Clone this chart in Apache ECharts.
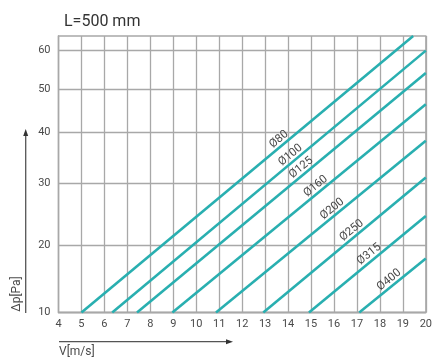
<!DOCTYPE html>
<html>
<head>
<meta charset="utf-8">
<script src="https://cdn.jsdelivr.net/npm/echarts@6/dist/echarts.min.js"></script>
<style>
  html, body { margin: 0; padding: 0; background: #fff; }
  #chart { width: 435px; height: 358px; }
</style>
</head>
<body>
<div id="chart"></div>
<script>
// Pressure drop per duct diameter, duct length 500 mm
const diameters = ['Ø80', 'Ø100', 'Ø125', 'Ø160', 'Ø200', 'Ø250', 'Ø315', 'Ø400'];
// velocity [m/s] at which each curve leaves the 10 Pa line
const vStart = [5.0, 6.34, 7.42, 8.96, 10.86, 12.92, 14.91, 17.10];
// end point of each curve: velocity [m/s] and pressure drop [Pa]
const vEnd = [19.45, 20, 20, 20, 20, 20, 20, 20];
const dpEnd = [63.8, 60.0, 54.2, 46.5, 38.3, 31.1, 24.7, 18.0];
// velocity at which each diameter caption is placed along its curve
const labelAt = [13.95, 14.45, 14.92, 15.55, 16.27, 17.12, 17.88, 18.75];

// pressure axis: printed gridline values and the relative gap between them
const dpTicks = [10, 20, 30, 40, 50, 60];
const dpGaps = [67.5, 62, 51, 43, 38.5];
const dpTop = 63.8;
const vMin = 4, vMax = 20;

// piecewise scale for the pressure axis
function toScale(dp) {
  let acc = 0;
  for (let i = 0; i < dpGaps.length; i++) {
    const a = dpTicks[i], b = dpTicks[i + 1];
    if (dp <= b || i === dpGaps.length - 1) {
      return acc + (dp - a) / (b - a) * dpGaps[i];
    }
    acc += dpGaps[i];
  }
  return acc;
}
function fromScale(u) {
  let acc = 0;
  for (let i = 0; i < dpGaps.length; i++) {
    const a = dpTicks[i], b = dpTicks[i + 1];
    if (u <= acc + dpGaps[i] + 1e-9 || i === dpGaps.length - 1) {
      return a + (u - acc) / dpGaps[i] * (b - a);
    }
    acc += dpGaps[i];
  }
  return dpTicks[dpTicks.length - 1];
}

const teal = '#29afb0';
const gridColor = '#a8a8a8';
const textColor = '#4a4a4a';
const font = 'Roboto, "Liberation Sans", sans-serif';

const tickScaled = dpTicks.map(toScale);

const series = diameters.map((name, i) => {
  const u0 = toScale(10), u1 = toScale(dpEnd[i]);
  const t = (labelAt[i] - vStart[i]) / (vEnd[i] - vStart[i]);
  const uL = u0 + t * (u1 - u0);
  return {
    type: 'line',
    name: name,
    data: [[vStart[i], u0], [vEnd[i], u1]],
    symbol: 'none',
    silent: true,
    lineStyle: { color: teal, width: 2.6 },
    markPoint: {
      symbol: 'circle',
      symbolSize: 0,
      silent: true,
      data: [{ coord: [labelAt[i], uL] }],
      label: {
        show: true,
        formatter: name,
        position: 'inside',
        rotate: 39,
        offset: [-5, -6.5],
        color: textColor,
        fontFamily: font,
        fontSize: 11.5
      }
    }
  };
});

const chart = echarts.init(document.getElementById('chart'), null, { renderer: 'canvas' });
chart.setOption({
  animation: false,
  backgroundColor: '#ffffff',
  title: {
    text: 'L=500 mm',
    left: 59,
    top: 9,
    textStyle: { fontFamily: font, fontSize: 16, fontWeight: 'normal', color: '#333' }
  },
  grid: {
    left: 58.5, right: 6.5, top: 36, bottom: 45.5,
    show: true, borderColor: gridColor, borderWidth: 1.3, containLabel: false
  },
  xAxis: {
    type: 'value',
    min: vMin, max: vMax, interval: 1,
    axisLine: { show: true, lineStyle: { color: gridColor, width: 1.3 } },
    axisTick: { show: false },
    axisLabel: { color: textColor, fontFamily: font, fontSize: 11, margin: 6 },
    splitLine: { show: true, lineStyle: { color: gridColor, width: 1.3 } }
  },
  yAxis: {
    type: 'value',
    min: 0, max: toScale(dpTop),
    axisLine: { show: true, lineStyle: { color: gridColor, width: 1.3 } },
    axisTick: { show: false, customValues: tickScaled },
    axisLabel: {
      customValues: tickScaled,
      color: textColor, fontFamily: font, fontSize: 11, margin: 8,
      formatter: v => String(Math.round(fromScale(v)))
    },
    splitLine: { show: true, lineStyle: { color: gridColor, width: 1.3 } }
  },
  graphic: [
    // vertical arrow with pressure caption
    { type: 'line', shape: { x1: 25.7, y1: 313, x2: 25.7, y2: 134 },
      style: { stroke: '#555', lineWidth: 1.3 }, silent: true },
    { type: 'polygon', shape: { points: [[25.7, 129], [23.2, 136], [28.2, 136]] },
      style: { fill: '#333' }, silent: true },
    { type: 'text', x: 16.5, y: 294, rotation: Math.PI / 2,
      style: { text: 'Δp[Pa]', fill: textColor, font: '12px ' + font, align: 'center', verticalAlign: 'middle' },
      silent: true },
    // horizontal arrow with velocity caption
    { type: 'line', shape: { x1: 59, y1: 341.7, x2: 228, y2: 341.7 },
      style: { stroke: '#555', lineWidth: 1.3 }, silent: true },
    { type: 'polygon', shape: { points: [[233, 341.7], [226, 339.2], [226, 344.2]] },
      style: { fill: '#333' }, silent: true },
    { type: 'text', x: 59, y: 351.5,
      style: { text: 'V[m/s]', fill: textColor, font: '12px ' + font, align: 'left', verticalAlign: 'middle' },
      silent: true }
  ],
  series: series
});
</script>
</body>
</html>
